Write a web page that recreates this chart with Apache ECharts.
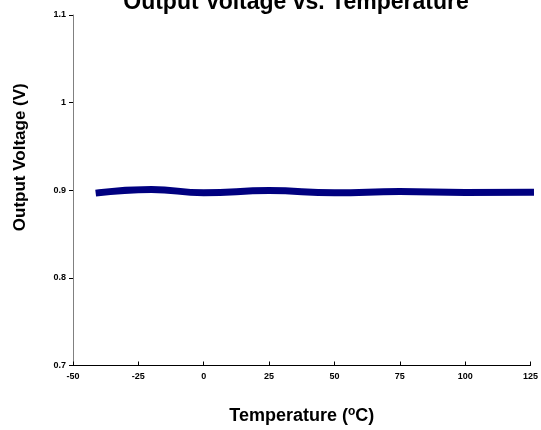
<!DOCTYPE html>
<html>
<head>
<meta charset="utf-8">
<script src="https://cdn.jsdelivr.net/npm/echarts@6/dist/echarts.min.js"></script>
<style>html,body{margin:0;padding:0;background:#fff}#c{width:541px;height:430px}</style>
</head>
<body>
<div id="c"></div>
<script>
const temperatures = [-40, -20, 0, 25, 50, 75, 100, 125];
const voltages = [0.8972, 0.9008, 0.8972, 0.8996, 0.8972, 0.8985, 0.8975, 0.8978];
const xTicks = [-50, -25, 0, 25, 50, 75, 100, 125];
const yTicks = [0.7, 0.8, 0.9, 1, 1.1];

const chart = echarts.init(document.getElementById('c'));
const font = 'Liberation Sans, Arial, sans-serif';
chart.setOption({
  animation: false,
  title: {
    text: 'Output Voltage vs. Temperature',
    left: 291, top: -14, textAlign: 'center',
    textStyle: { fontFamily: font, fontWeight: 'bold', fontSize: 23, color: '#000' }
  },
  grid: { left: 73, right: 7, top: 15, bottom: 61 },
  xAxis: {
    type: 'value', min: -50, max: 125, interval: 25,
    name: '{a|Temperature (}{s|o}{a|C)}',
    nameLocation: 'middle', nameGap: 40,
    nameTextStyle: {
      rich: {
        a: { fontFamily: font, fontWeight: 'bold', fontSize: 18, color: '#000' },
        s: { fontFamily: font, fontWeight: 'bold', fontSize: 12, color: '#000', verticalAlign: 'top', padding: [0, 0, 9, 0] }
      }
    },
    axisLine: { onZero: false, lineStyle: { color: '#000', width: 1 } },
    axisTick: { inside: true, length: 4, lineStyle: { color: '#000' } },
    axisLabel: { fontFamily: font, fontWeight: 'bold', fontSize: 9, color: '#000', margin: 7,
      formatter: v => xTicks.includes(v) ? String(v) : '' },
    splitLine: { show: false }
  },
  yAxis: {
    type: 'value', min: 0.7, max: 1.1, interval: 0.1,
    name: 'Output Voltage (V)',
    nameLocation: 'middle', nameGap: 44, nameRotate: 90,
    nameTextStyle: { fontFamily: font, fontWeight: 'bold', fontSize: 17, color: '#000', padding: [0, 0, 0, 66] },
    axisLine: { onZero: false, lineStyle: { color: '#808080', width: 1 } },
    axisTick: { inside: false, length: 4, lineStyle: { color: '#000' } },
    axisLabel: { fontFamily: font, fontWeight: 'bold', fontSize: 9, color: '#000', margin: 7,
      formatter: v => { const t = yTicks.find(y => Math.abs(y - v) < 1e-6); return t === undefined ? '' : String(t); } },
    splitLine: { show: false }
  },
  series: [{
    type: 'line',
    data: temperatures.map((t, i) => [t, voltages[i]]),
    smooth: 0.5,
    showSymbol: false,
    clip: false,
    lineStyle: { color: '#000080', width: 7, cap: 'square' }
  }]
});
</script>
</body>
</html>
